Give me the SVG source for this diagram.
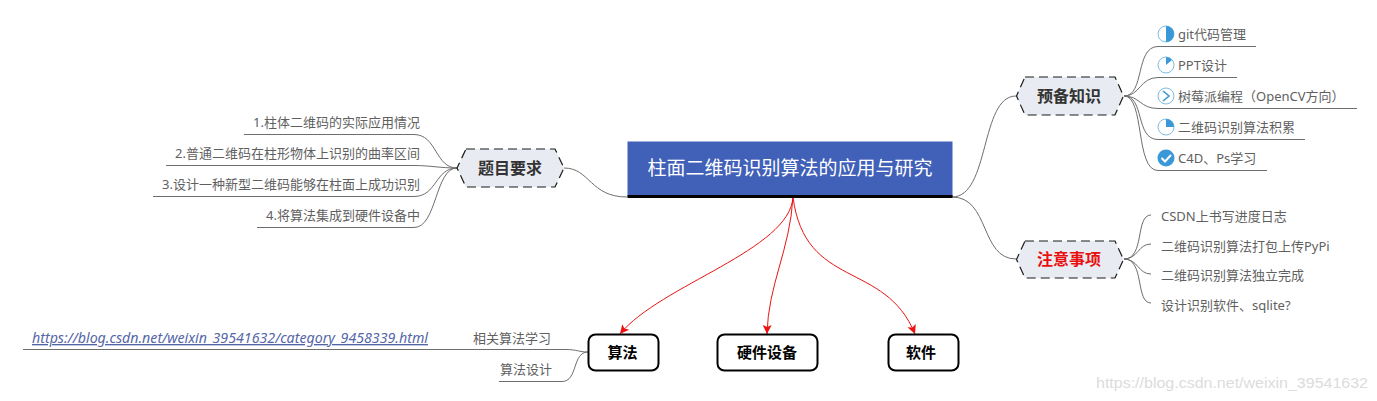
<svg xmlns="http://www.w3.org/2000/svg" width="1377" height="401" viewBox="0 0 1377 401">
<defs>
<marker id="ah" markerWidth="12" markerHeight="12" refX="9" refY="6" orient="auto" markerUnits="userSpaceOnUse"><path d="M0,1.500 L9,6 L0,10.500 L2,6 Z" fill="#ee1111"/></marker>
</defs>
<style>
text{font-family:"Noto Sans","Noto Sans CJK SC",sans-serif}
.l{font-size:13px;fill:#5f5f5f}
.r{text-anchor:end}
.h{fill:#e9ebf2;stroke:#1a1a1a;stroke-width:1.2;stroke-dasharray:9 5}
.ht{font-size:16px;font-weight:700;fill:#333;text-anchor:middle}
.b{fill:#fff;stroke:#000;stroke-width:2}
.bt{font-size:15px;font-weight:700;fill:#000;text-anchor:middle}
.c{fill:none;stroke:#6e6e6e;stroke-width:1}
.e{fill:none;stroke:#e81414;stroke-width:1}
.ic{fill:#fff;stroke:#7fbde6;stroke-width:1}
.ip{fill:#3a97d8}
</style>
<rect width="1377" height="401" fill="#fff"/>
<g id="connectors">
<path class="c" d="M952,197 C990,197 980,96 1016,96"/>
<path class="c" d="M952,197 C990,197 980,259 1016,259"/>
<path class="c" d="M627,197 C590,197 590,168 564,168"/>
<path class="c" d="M1124,96 C1145,96 1135,46.500 1158,46.500 H1256"/>
<path class="c" d="M1124,96 C1140,96 1140,77.500 1158,77.500 H1237"/>
<path class="c" d="M1124,96 C1140,96 1140,108.500 1158,108.500 H1357"/>
<path class="c" d="M1124,96 C1145,96 1135,139.500 1158,139.500 H1305"/>
<path class="c" d="M1124,96 C1145,96 1135,170.500 1158,170.500 H1267"/>
<path class="c" d="M1124,259 C1145,259 1135,215 1151,215"/>
<path class="c" d="M1124,259 C1138,259 1138,244 1151,244"/>
<path class="c" d="M1124,259 C1138,259 1138,274 1151,274"/>
<path class="c" d="M1124,259 C1145,259 1135,303 1151,303"/>
<path class="c" d="M457,168 C435,168 437,134.500 414,134.500 H244"/>
<path class="c" d="M457,168 C440,168 430,165.500 414,165.500 H166"/>
<path class="c" d="M457,168 C435,168 437,196.500 414,196.500 H153"/>
<path class="c" d="M457,168 C435,168 437,227.500 414,227.500 H257"/>
<path class="c" d="M588,352 C578,352 578,349.500 565,349.500 H23"/>
<path class="c" d="M588,352 C572,352 578,381.500 562,381.500 H499"/>
<path class="e" d="M793,197 C790,250 660,285 620,334" marker-end="url(#ah)"/>
<path class="e" d="M793,197 C790,250 768,285 767,334" marker-end="url(#ah)"/>
<path class="e" d="M793,197 C805,290 885,260 915,334" marker-end="url(#ah)"/>
</g>
<g id="root">
<rect x="627.500" y="141.500" width="325" height="55" fill="#4160b8"/>
<rect x="627.500" y="195" width="325" height="3" fill="#000"/>
<text x="790" y="175" text-anchor="middle" font-size="19" fill="#fff">柱面二维码识别算法的应用与研究</text>
</g>
<g id="prep">
<path class="h" d="M1025,77 H1115 L1123.500,96 L1115,115 H1025 L1016.500,96 Z"/>
<text class="ht" x="1069" y="102">预备知识</text>
</g>
<g id="prep-1">
<circle class="ic" cx="1166" cy="34" r="8"/><path class="ip" d="M1166,26 A8,8 0 0 1 1166,42 Z"/>
<text class="l" x="1178" y="39">git代码管理</text>
</g>
<g id="prep-2">
<circle class="ic" cx="1166" cy="65" r="8"/><path class="ip" d="M1166,65 V57 A8,8 0 0 1 1172,60 Z"/>
<text class="l" x="1178" y="70">PPT设计</text>
</g>
<g id="prep-3">
<circle class="ic" cx="1166" cy="96" r="8"/><path d="M1163,91 L1169,96 L1163,101" fill="none" stroke="#3a97d8" stroke-width="1.600"/>
<text class="l" x="1178" y="101">树莓派编程（OpenCV方向）</text>
</g>
<g id="prep-4">
<circle class="ic" cx="1166" cy="127" r="8"/><path class="ip" d="M1166,127 V119 A8,8 0 0 1 1174,127 Z"/>
<text class="l" x="1178" y="132">二维码识别算法积累</text>
</g>
<g id="prep-5">
<circle cx="1166" cy="158" r="8.500" fill="#3a97d8"/><path d="M1161.500,158 L1165,161.500 L1171,155" fill="none" stroke="#fff" stroke-width="2"/>
<text class="l" x="1178" y="163">C4D、Ps学习</text>
</g>
<g id="notes">
<path class="h" d="M1025,241 H1115 L1123.500,259.500 L1115,278 H1025 L1016.500,259.500 Z"/>
<text x="1069" y="265" font-size="16" font-weight="700" fill="#e80f0f" text-anchor="middle">注意事项</text>
</g>
<g id="notes-1"><text class="l" x="1161" y="221">CSDN上书写进度日志</text></g>
<g id="notes-2"><text class="l" x="1161" y="251">二维码识别算法打包上传PyPi</text></g>
<g id="notes-3"><text class="l" x="1161" y="280">二维码识别算法独立完成</text></g>
<g id="notes-4"><text class="l" x="1161" y="310">设计识别软件、sqlite?</text></g>
<g id="req">
<path class="h" d="M466,149 H555 L564,168 L555,187 H466 L457,168 Z"/>
<text class="ht" x="510" y="174">题目要求</text>
</g>
<g id="req-1"><text class="l r" x="420" y="127">1.柱体二维码的实际应用情况</text></g>
<g id="req-2"><text class="l r" x="420" y="158">2.普通二维码在柱形物体上识别的曲率区间</text></g>
<g id="req-3"><text class="l r" x="420" y="189">3.设计一种新型二维码能够在柱面上成功识别</text></g>
<g id="req-4"><text class="l r" x="420" y="220">4.将算法集成到硬件设备中</text></g>
<g id="algo">
<rect class="b" x="588.500" y="334.500" width="70" height="36" rx="7"/>
<text class="bt" x="622.500" y="358">算法</text>
</g>
<g id="hardware">
<rect class="b" x="717.500" y="334.500" width="100" height="36" rx="7"/>
<text class="bt" x="767" y="358">硬件设备</text>
</g>
<g id="software">
<rect class="b" x="888.500" y="334.500" width="70" height="36" rx="7"/>
<text class="bt" x="921" y="358">软件</text>
</g>
<g id="algo-1"><text class="l r" x="551" y="343">相关算法学习</text></g>
<g id="algo-2"><text class="l r" x="552" y="374">算法设计</text></g>
<g id="link"><text x="32" y="343" font-size="13.500" font-style="italic" fill="#5566a8" text-decoration="underline" textLength="396" lengthAdjust="spacingAndGlyphs">https://blog.csdn.net/weixin_39541632/category_9458339.html</text></g>
<text x="1096" y="388" font-size="15" fill="#dcdcdc" textLength="272" lengthAdjust="spacingAndGlyphs" style="font-family:'Liberation Sans',sans-serif">https://blog.csdn.net/weixin_39541632</text>
</svg>
